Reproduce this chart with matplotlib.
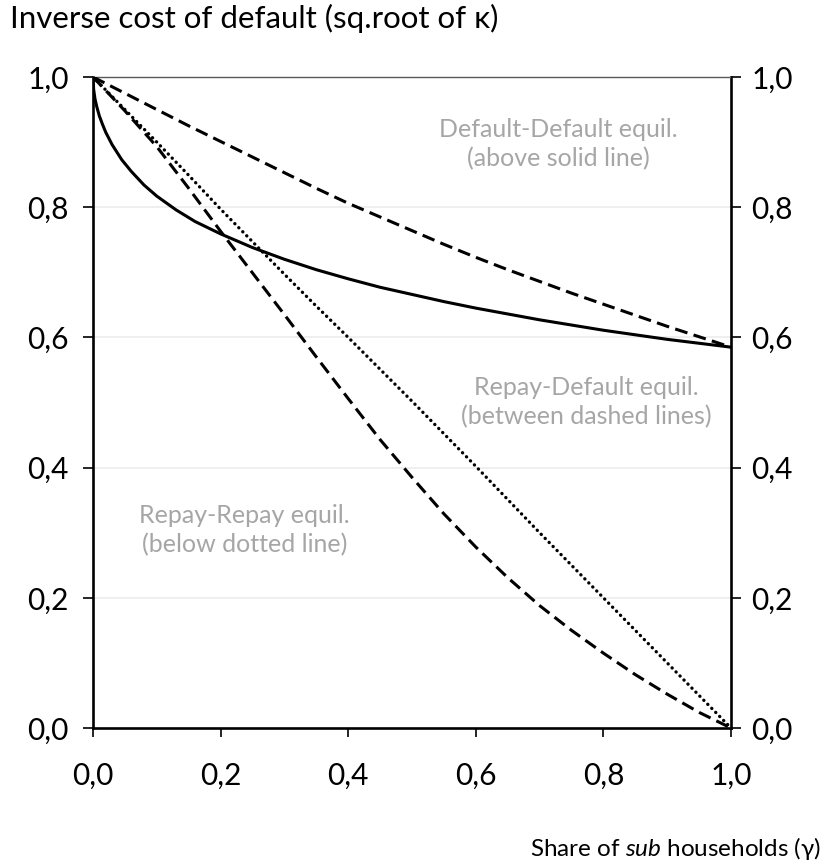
import matplotlib
matplotlib.use("Agg")
import matplotlib.pyplot as plt

# ---- data ----
solid_x = [0.0, 0.001, 0.003, 0.006, 0.01, 0.015, 0.02, 0.03, 0.045, 0.06, 0.08, 0.1,
           0.13, 0.16, 0.2, 0.25, 0.3, 0.35, 0.4, 0.45, 0.5, 0.55, 0.6, 0.65, 0.7,
           0.75, 0.8, 0.85, 0.9, 0.95, 1.0]
solid_y = [1.0, 0.981, 0.967, 0.954, 0.940, 0.927, 0.915, 0.896, 0.873, 0.855, 0.834, 0.817,
           0.796, 0.778, 0.759, 0.738, 0.720, 0.704, 0.690, 0.677, 0.666, 0.655, 0.645,
           0.636, 0.627, 0.619, 0.611, 0.604, 0.597, 0.591, 0.585]

gamma = [0.0, 0.05, 0.1, 0.15, 0.2, 0.25, 0.3, 0.35, 0.4, 0.45, 0.5, 0.55, 0.6, 0.65,
         0.7, 0.75, 0.8, 0.85, 0.9, 0.95, 1.0]
upper_dashed = [1.0, 0.975, 0.950, 0.925, 0.901, 0.877, 0.853, 0.829, 0.806, 0.785,
                0.764, 0.743, 0.723, 0.704, 0.686, 0.668, 0.651, 0.634, 0.617, 0.601, 0.585]
lower_dashed = [1.0, 0.948, 0.893, 0.829, 0.763, 0.699, 0.635, 0.570, 0.506, 0.443,
                0.385, 0.329, 0.278, 0.231, 0.188, 0.150, 0.115, 0.082, 0.052, 0.024, 0.0]
dotted = [1.0, 0.950, 0.900, 0.849, 0.797, 0.747, 0.697, 0.648, 0.600, 0.551,
          0.502, 0.452, 0.402, 0.351, 0.300, 0.250, 0.200, 0.150, 0.100, 0.050, 0.0]

ticks = [0.0, 0.2, 0.4, 0.6, 0.8, 1.0]
tick_labels = ["0,0", "0,2", "0,4", "0,6", "0,8", "1,0"]

ylabel_text = "Inverse cost of default (sq.root of κ)"
xlabel_text = "Share of $\\mathit{sub}$ households (γ)"
notes = [
    (0.729, 0.897, "Default-Default equil.\n(above solid line)"),
    (0.774, 0.500, "Repay-Default equil.\n(between dashed lines)"),
    (0.237, 0.304, "Repay-Repay equil.\n(below dotted line)"),
]

# ---- style ----
FONT = ["Lato", "DejaVu Sans"]
plt.rcParams["font.family"] = FONT
plt.rcParams["mathtext.fontset"] = "custom"
plt.rcParams["mathtext.rm"] = "Lato"
plt.rcParams["mathtext.it"] = "Lato:italic"

W, H = 829, 867
fig = plt.figure(figsize=(W / 100, H / 100), dpi=100)
L, R, B, T = 93, 731, 728, 77
ax = fig.add_axes([L / W, (H - B) / H, (R - L) / W, (B - T) / H])

ax.set_xlim(0, 1)
ax.set_ylim(0, 1)

for yv in [0.2, 0.4, 0.6, 0.8]:
    ax.axhline(yv, color="#ececec", lw=1.2, zorder=0)

ax.plot(solid_x, solid_y, color="black", lw=2.2, solid_capstyle="butt", zorder=3)
ax.plot(gamma, upper_dashed, color="black", lw=2.2, dashes=(4.2, 2.1), zorder=3)
ax.plot(gamma, lower_dashed, color="black", lw=2.2, dashes=(4.2, 2.1), zorder=3)
ax.plot(gamma, dotted, color="black", lw=2.4, dashes=(0.05, 1.65),
        dash_capstyle="round", zorder=3)

for spine in ["left", "bottom", "right"]:
    ax.spines[spine].set_color("black")
    ax.spines[spine].set_linewidth(1.9)
ax.spines["top"].set_color("#595959")
ax.spines["top"].set_linewidth(1.0)

ax.set_xticks(ticks)
ax.set_xticklabels(tick_labels)
ax.set_yticks(ticks)
ax.set_yticklabels(tick_labels)
ax.tick_params(axis="x", direction="out", length=6.5, width=1.2, labelsize=21.5, pad=18,
               colors="black")
ax.tick_params(axis="y", direction="out", length=7.5, width=1.2, labelsize=21.5, pad=10,
               left=True, right=False, labelleft=True, labelright=False, colors="black")

ax2 = ax.twinx()
ax2.set_ylim(0, 1)
ax2.set_yticks(ticks)
ax2.set_yticklabels(tick_labels)
ax2.tick_params(axis="y", direction="out", length=7.5, width=1.2, labelsize=21.5, pad=7,
                colors="black")
for s in ax2.spines.values():
    s.set_visible(False)

for x, y, t in notes:
    ax.text(x, y, t, ha="center", va="center", fontsize=18, color="#a6a6a6",
            linespacing=1.3, transform=ax.transData)

fig.text(10 / W, 1 - 18 / H, ylabel_text, ha="left", va="center", fontsize=22.5, color="black")
fig.text(821 / W, (H - 848) / H, xlabel_text, ha="right", va="center", fontsize=17.5,
         color="black")

fig.savefig("out.png", dpi=100, facecolor="white")
